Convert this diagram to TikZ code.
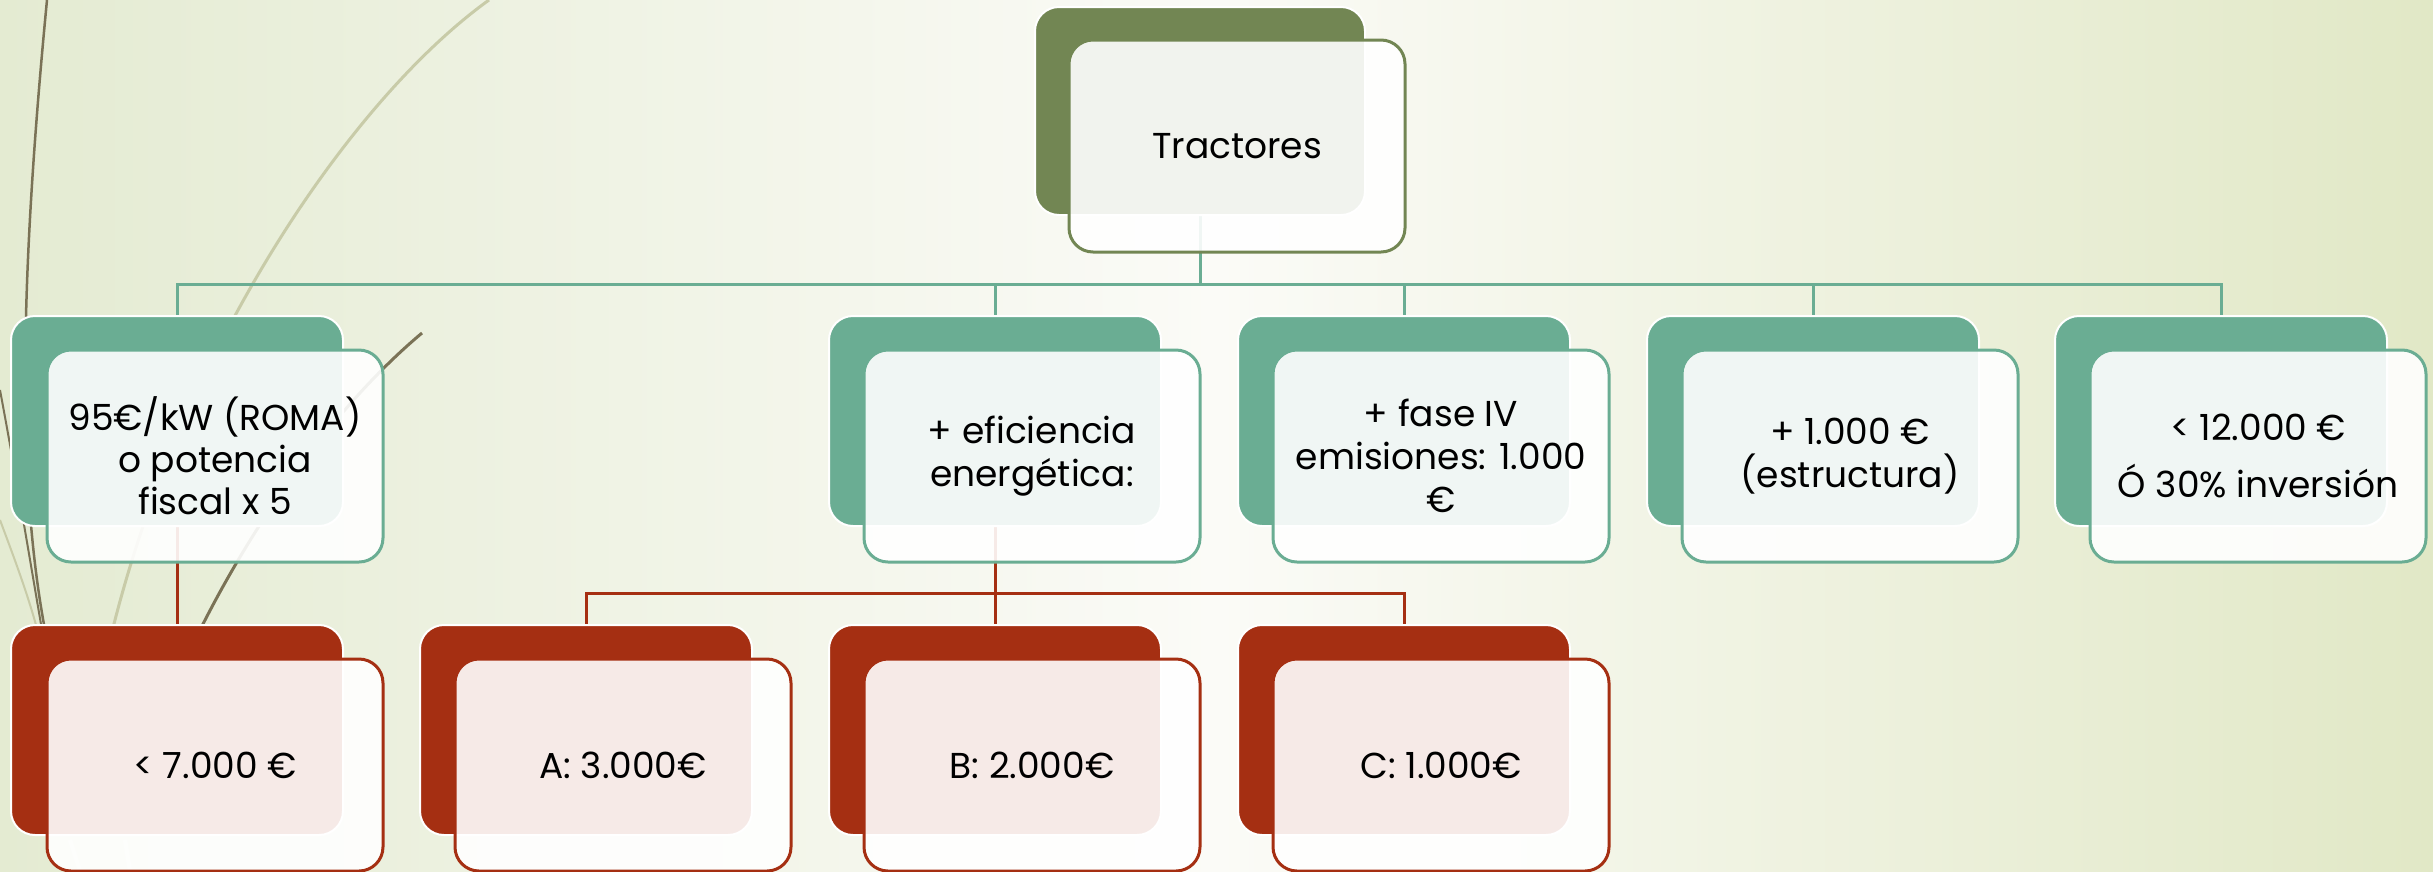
\documentclass[tikz,border=0pt]{standalone}
\usepackage{fontspec}
\setmainfont{Poppins}
\usetikzlibrary{calc}
\definecolor{cOlive}{RGB}{114,134,83}
\definecolor{cGreen}{RGB}{106,173,147}
\definecolor{cRed}{RGB}{165,47,18}
\definecolor{bgL}{RGB}{228,235,210}
\definecolor{bgM}{RGB}{251,251,247}
\definecolor{bgR}{RGB}{225,232,198}
\definecolor{cBrown}{RGB}{122,114,86}
\definecolor{cPale}{RGB}{200,203,168}
\pgfdeclarelayer{deco}
\pgfdeclarelayer{conn}
\pgfsetlayers{deco,conn,main}
\begin{document}
\begin{tikzpicture}[x=1pt,y=-1pt,
  backbox/.style={draw=white,line width=2pt,rounded corners=24pt,minimum width=332pt,minimum height=210pt,inner sep=0pt},
  frontbox/.style={line width=3pt,rounded corners=24pt,fill=white,fill opacity=0.9,text opacity=1,minimum width=336pt,minimum height=212pt,inner sep=0pt,align=center,font=\fontsize{36}{43}\selectfont},
  gline/.style={draw=cGreen,line width=3pt},
  rline/.style={draw=cRed,line width=3pt}]
\useasboundingbox (0,0) rectangle (2433,871);
\begin{pgfonlayer}{deco}
\shade[left color=bgL,right color=bgR,middle color=bgM] (0,0) rectangle (2433,871);
\draw[cPale,line width=3pt] (489,0) .. controls (350,100) and (180,350) .. (110,640);
\draw[cPale,line width=2pt] (0,520) .. controls (15,560) and (30,600) .. (40,640);
\draw[cBrown,line width=2.5pt] (47,0) .. controls (22,260) and (15,470) .. (45,630);
\draw[cBrown,line width=2pt] (0,390) .. controls (15,470) and (30,560) .. (42,630);
\draw[cBrown,line width=3pt] (200,630) .. controls (250,530) and (330,410) .. (422,333);
\draw[white,opacity=0.5,line width=4pt] (80,871) -- (70,840);
\draw[white,opacity=0.5,line width=4pt] (130,871) -- (125,840);
\end{pgfonlayer}
\coordinate (gbus) at (0,284);
\coordinate (rbus) at (0,593);
% top
\node[backbox,fill=cOlive,minimum width=330pt,minimum height=208pt] (tb) at (1200,111) {};
\node[frontbox,draw=cOlive] (t) at (1237,146) {Tractores};
% level 2
\node[backbox,fill=cGreen] (c1b) at (177,421) {};
\node[frontbox,draw=cGreen,font=\fontsize{36}{42}\selectfont] (c1) at (215,456) {95€/kW (ROMA)\\o potencia\\fiscal x 5};
\node[backbox,fill=cGreen] (c2b) at (995,421) {};
\node[frontbox,draw=cGreen] (c2) at (1032,456) {+ eficiencia\\energética:};
\node[backbox,fill=cGreen] (c3b) at (1404,421) {};
\node[frontbox,draw=cGreen] (c3) at (1441,456) {+ fase IV\\emisiones: 1.000\\€};
\node[backbox,fill=cGreen] (c4b) at (1813,421) {};
\node[frontbox,draw=cGreen] (c4) at (1850,456) {+ 1.000 €\\(estructura)};
\node[backbox,fill=cGreen] (c5b) at (2221,421) {};
\node[frontbox,draw=cGreen] (c5) at (2258,456) {< 12.000 €\\[14pt]Ó 30\% inversión};
% level 3
\node[backbox,fill=cRed] (r1b) at (177,730) {};
\node[frontbox,draw=cRed] (r1) at (215,765) {< 7.000 €};
\node[backbox,fill=cRed] (rAb) at (586,730) {};
\node[frontbox,draw=cRed] (rA) at (623,765) {A: 3.000€};
\node[backbox,fill=cRed] (rBb) at (995,730) {};
\node[frontbox,draw=cRed] (rB) at (1032,765) {B: 2.000€};
\node[backbox,fill=cRed] (rCb) at (1404,730) {};
\node[frontbox,draw=cRed] (rC) at (1441,765) {C: 1.000€};
\begin{pgfonlayer}{conn}
\draw[gline] (tb.south) -- (tb.south |- gbus) -| (c1b.north);
\draw[gline] (tb.south |- gbus) -| (c2b.north);
\draw[gline] (tb.south |- gbus) -| (c3b.north);
\draw[gline] (tb.south |- gbus) -| (c4b.north);
\draw[gline] (tb.south |- gbus) -| (c5b.north);
\draw[rline] (c1b.south) -- (r1b.north);
\draw[rline] (c2b.south) -- (c2b.south |- rbus) -| (rAb.north);
\draw[rline] (c2b.south |- rbus) -| (rBb.north);
\draw[rline] (c2b.south |- rbus) -| (rCb.north);
\end{pgfonlayer}
\end{tikzpicture}
\end{document}
